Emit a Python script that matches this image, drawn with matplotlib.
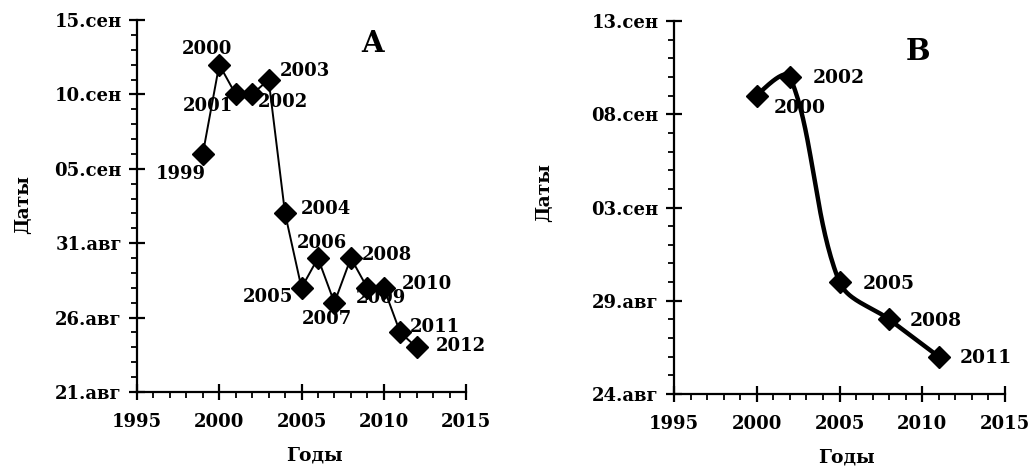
import datetime as dt

import matplotlib
matplotlib.use("Agg")
import matplotlib.pyplot as plt
import matplotlib.dates as mdates
import numpy as np
from matplotlib.ticker import FixedLocator, FuncFormatter, MultipleLocator

# panel A
years_a = [1999, 2000, 2001, 2002, 2003, 2004, 2005, 2006, 2007, 2008, 2009, 2010, 2011, 2012]
dates_a = ["06.09", "12.09", "10.09", "10.09", "11.09", "02.09", "28.08",
           "30.08", "27.08", "30.08", "28.08", "28.08", "25.08", "24.08"]
ticks_a = ["21.08", "26.08", "31.08", "05.09", "10.09", "15.09"]

# panel B
years_b = [2000, 2002, 2005, 2008, 2011]
dates_b = ["09.09", "10.09", "30.08", "28.08", "26.08"]
ticks_b = ["24.08", "29.08", "03.09", "08.09", "13.09"]

year_ticks = [1995, 2000, 2005, 2010, 2015]
month_ru = {8: "авг", 9: "сен"}

# label offsets in pixels (dx right, dy up) for each point
offs_a = [(-22, -20), (-12, 16), (-28, -12), (31, -8), (36, 9), (41, 4), (-34, -9),
          (4, 15), (-7, -16), (36, 3), (14, -10), (43, 4), (35, 5), (44, 1)]
offs_b = [(43, -12), (49, -1), (49, -2), (47, -2), (47, -1)]

FONT = "DejaVu Serif"


def to_num(s):
    d, m = s.split(".")
    return mdates.date2num(dt.date(2000, int(m), int(d)))


def fmt_date(v, pos=None):
    d = mdates.num2date(v)
    return f"{d.day:02d}.{month_ru[d.month]}"


def smooth_line(ax, x, y, n=40):
    # spreadsheet-like smoothed line: bezier segments, tangents weighted by
    # segment lengths in screen space
    p = ax.transData.transform(np.column_stack([x, y]))
    m = len(p)
    tang = np.zeros_like(p)
    for i in range(m):
        a = p[max(i - 1, 0)]
        b = p[min(i + 1, m - 1)]
        tang[i] = b - a
    seg_len = np.linalg.norm(np.diff(p, axis=0), axis=1)
    t = np.linspace(0, 1, n)[:, None]
    pts = []
    for i in range(m - 1):
        d_prev = seg_len[i - 1] if i > 0 else seg_len[i]
        d_next = seg_len[i + 1] if i < m - 2 else seg_len[i]
        c1 = p[i] + tang[i] * seg_len[i] / (d_prev + seg_len[i]) / 3
        c2 = p[i + 1] - tang[i + 1] * seg_len[i] / (seg_len[i] + d_next) / 3
        if i == 0:
            c1 = p[i] + (c2 - p[i]) / 3
        if i == m - 2:
            c2 = p[i + 1] + (c1 - p[i + 1]) / 3
        seg = ((1 - t) ** 3 * p[i] + 3 * (1 - t) ** 2 * t * c1
               + 3 * (1 - t) * t ** 2 * c2 + t ** 3 * p[i + 1])
        pts.append(seg)
    pts = ax.transData.inverted().transform(np.vstack(pts))
    return pts[:, 0], pts[:, 1]


def style_axis(ax, ticks):
    ax.spines["top"].set_visible(False)
    ax.spines["right"].set_visible(False)
    ax.spines["left"].set_linewidth(1.6)
    ax.spines["bottom"].set_linewidth(1.6)
    yt = [to_num(s) for s in ticks]
    ax.set_ylim(yt[0], yt[-1])
    ax.yaxis.set_major_locator(FixedLocator(yt))
    ax.yaxis.set_minor_locator(MultipleLocator(1))
    ax.yaxis.set_major_formatter(FuncFormatter(fmt_date))
    ax.set_xlim(1995, 2015)
    ax.xaxis.set_major_locator(FixedLocator(year_ticks))
    ax.xaxis.set_minor_locator(MultipleLocator(1))
    ax.tick_params(which="major", direction="inout", length=12, width=1.6,
                   labelsize=13, pad=5)
    ax.tick_params(axis="x", which="major", pad=9)
    ax.tick_params(which="minor", direction="out", length=4, width=1.3)
    for lab in ax.get_xticklabels() + ax.get_yticklabels():
        lab.set_fontfamily(FONT)
        lab.set_fontweight("bold")


fig = plt.figure(figsize=(10.34, 4.69), dpi=100)
ax_a = fig.add_axes([137 / 1034, 77 / 469, 329 / 1034, 372 / 469])
ax_b = fig.add_axes([674 / 1034, 75 / 469, 331 / 1034, 373 / 469])

ya = [to_num(s) for s in dates_a]
ax_a.plot(years_a, ya, color="black", lw=1.4, marker="D", ms=11, zorder=3)
for x, y, (dx, dy) in zip(years_a, ya, offs_a):
    ax_a.annotate(str(x), (x, y), xytext=(dx, dy), textcoords="offset pixels",
                  ha="center", va="center", fontsize=13, fontweight="bold",
                  family=FONT)
style_axis(ax_a, ticks_a)

style_axis(ax_b, ticks_b)
yb = [to_num(s) for s in dates_b]
sx, sy = smooth_line(ax_b, years_b, yb)
ax_b.plot(sx, sy, color="black", lw=3.2, zorder=2)
ax_b.plot(years_b, yb, ls="none", color="black", marker="D", ms=11, zorder=3)
for x, y, (dx, dy) in zip(years_b, yb, offs_b):
    ax_b.annotate(str(x), (x, y), xytext=(dx, dy), textcoords="offset pixels",
                  ha="center", va="center", fontsize=13.5, fontweight="bold",
                  family=FONT)

ax_a.text(0.717, 0.938, "A", transform=ax_a.transAxes, ha="center", va="center",
          fontsize=21, fontweight="bold", family=FONT)
ax_b.text(0.737, 0.917, "B", transform=ax_b.transAxes, ha="center", va="center",
          fontsize=21, fontweight="bold", family=FONT)

for ax, xl, yl in [(ax_a, (0.538, -0.172), (-0.347, 0.505)),
                   (ax_b, (0.52, -0.169), (-0.393, 0.539))]:
    ax.set_xlabel("Годы", fontsize=13.5, fontweight="bold", family=FONT, va="center")
    ax.set_ylabel("Даты", fontsize=13.5, fontweight="bold", family=FONT, va="center")
    ax.xaxis.set_label_coords(*xl)
    ax.yaxis.set_label_coords(*yl)

fig.savefig("out.png", dpi=100, facecolor="white")
